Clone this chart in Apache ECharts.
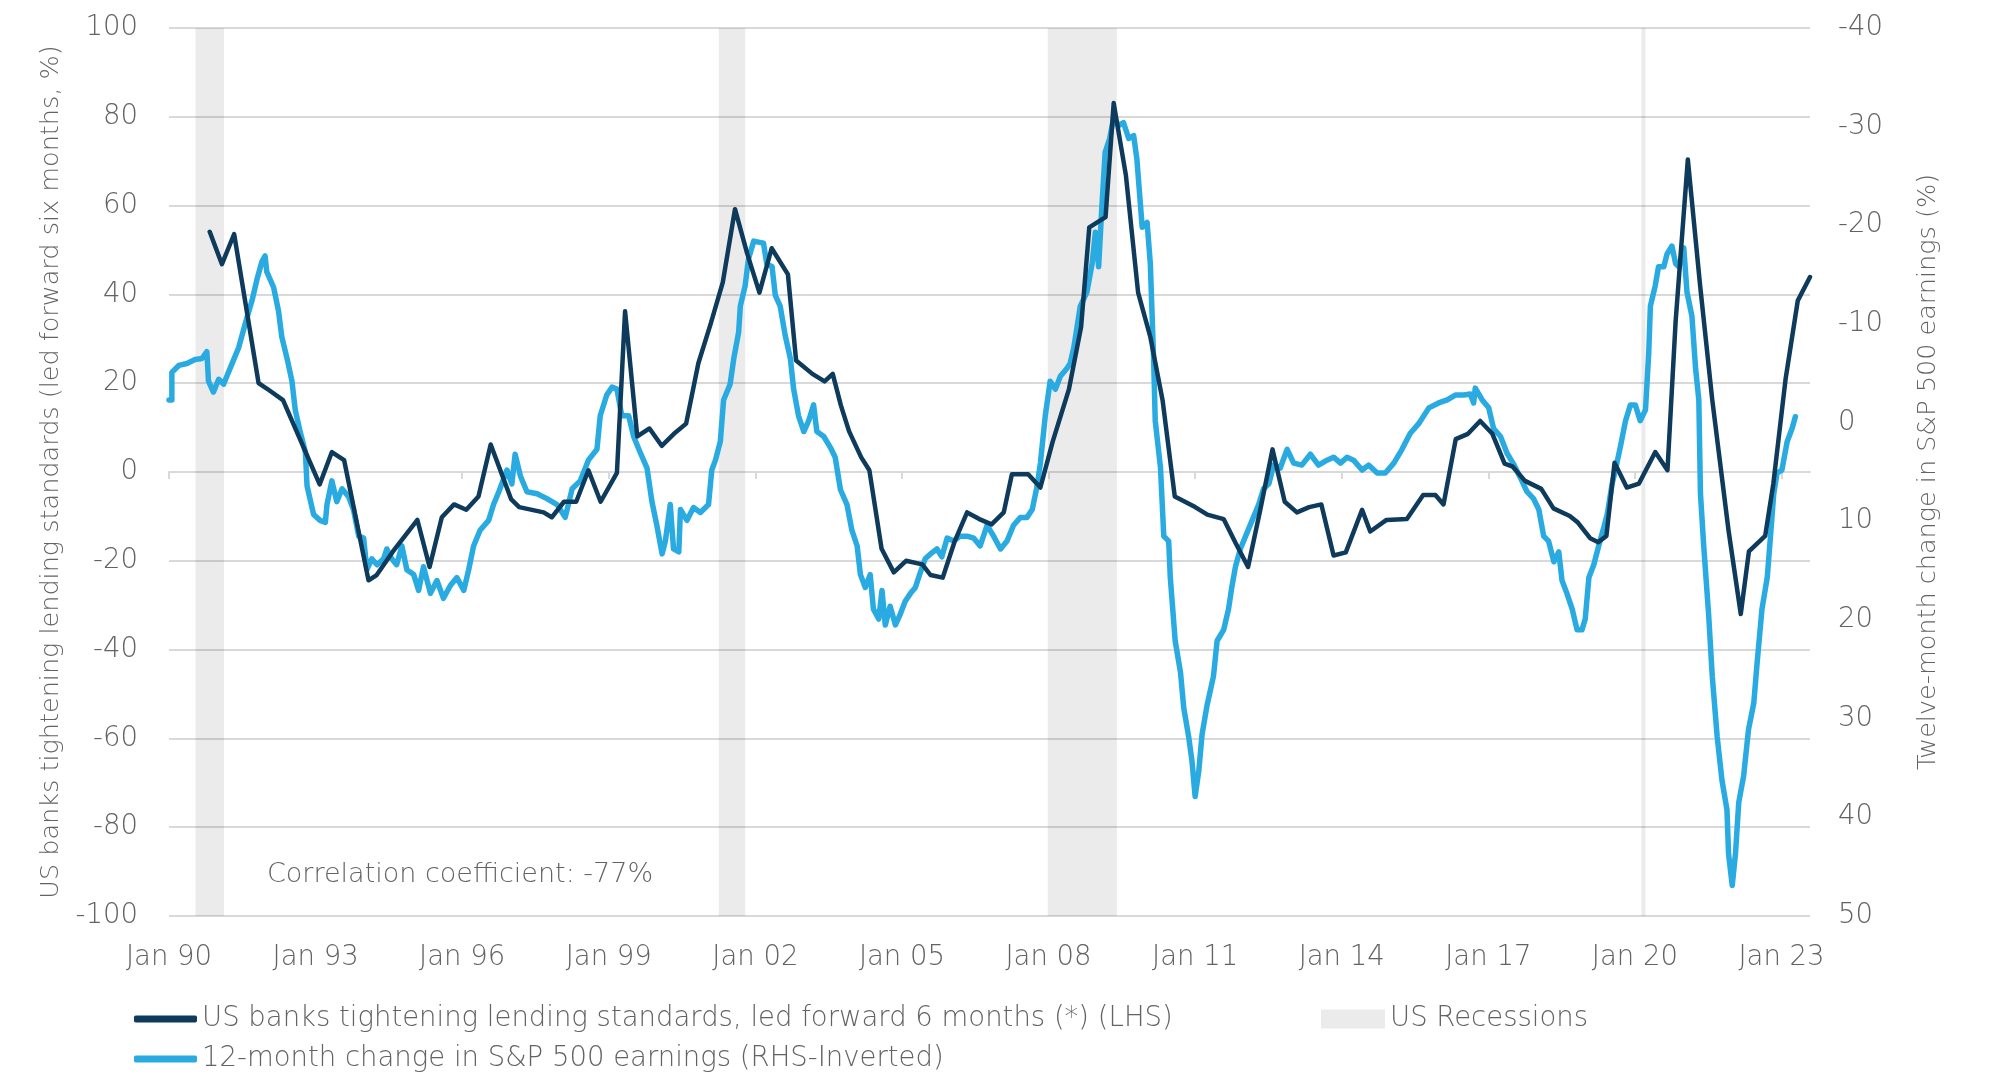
<!DOCTYPE html>
<html><head><meta charset="utf-8">
<script src="https://cdn.jsdelivr.net/npm/echarts@6/dist/echarts.min.js"></script>
<style>html,body{margin:0;padding:0;background:#fff}#c{width:1997px;height:1075px}</style>
</head><body><div id="c"></div>
<script>
// x positions are months after Jan 1990
const xTickMonths = [0, 36, 72, 108, 144, 180, 216, 252, 288, 324, 360, 396];
const xTickLabels = ['Jan 90','Jan 93','Jan 96','Jan 99','Jan 02','Jan 05','Jan 08','Jan 11','Jan 14','Jan 17','Jan 20','Jan 23'];

// US recessions [start month, end month]
const recessions = [[6.5, 13.5], [135, 141.5], [215.8, 232.8], [361.6, 362.6]];

// US banks tightening lending standards, led forward 6 months (LHS, %)
const lendMonth = [10,13,16,22,24,28,37,40,43,49,
  51,55,61,64,67,70,73,76,79,84,
  86,90,92,94,97,100,103,106,110,112,
  115,118,121,124,127,130,133,136,139,142,
  145,148,152,154,158,161,163,165,167,170,
  172,175,178,181,185,187,190,193,196,199,
  202,205,207,211,214,217,221,224,226,230,
  232,235,238,241,244,247,252,255,259,262,
  265,268,271,274,277,280,283,286,289,293,
  295,299,304,308,311,313,316,319,322,325,
  328,330,333,337,340,344,346,349,351,353,
  355,358,361,365,368,370,373,376,379,383,
  386,388,392,394,397,400,403];
const lendValue = [54.1,46.8,53.6,20.0,18.8,16.2,-2.8,4.5,2.7,-24.4,
  -23.2,-17.9,-10.8,-21.4,-10.2,-7.3,-8.5,-5.5,6.2,-6.1,
  -7.9,-8.7,-9.1,-10.2,-6.7,-6.7,0.4,-6.7,-0.2,36.2,
  8.0,9.8,5.9,8.6,10.9,24.5,33.3,42.7,59.2,49.2,
  40.4,50.4,44.5,25.1,22.1,20.4,22.1,15.0,9.2,3.3,
  0.4,-17.3,-22.6,-20.0,-20.8,-23.2,-23.8,-15.5,-9.1,-10.6,
  -11.8,-9.1,-0.5,-0.5,-3.5,6.8,18.6,32.7,55.1,57.4,
  83.1,66.8,40.4,30.4,16.2,-5.5,-7.9,-9.6,-10.6,-16.1,
  -21.4,-8.5,5.1,-6.7,-9.1,-7.9,-7.3,-18.8,-18.1,-8.5,
  -13.4,-10.8,-10.6,-5.2,-5.2,-7.3,7.4,8.6,11.5,8.6,
  1.9,1.2,-2.0,-3.8,-8.2,-9.9,-11.4,-14.9,-15.8,-14.4,
  2.1,-3.5,-2.6,4.5,0.4,33.9,70.4,42.1,16.2,-13.2,
  -32.0,-17.9,-14.4,-2.6,20.9,38.6,43.9];

// 12-month change in S&P 500 earnings (RHS, %, axis inverted)
const earnMonth = [0,0.7,0.7,2.4,4.4,6.4,8.1,9.3,9.7,10.9,
  12.2,13.4,15.0,17.1,18.7,20.4,21.6,22.8,23.6,24.0,
  25.7,26.9,27.7,29.0,30.2,31.0,32.2,33.5,33.9,35.5,
  37.1,38.4,38.8,40.0,41.2,42.5,44.1,45.3,46.6,47.8,
  48.6,49.8,51.1,52.7,53.5,54.7,55.9,57.2,58.4,60.1,
  61.3,62.5,64.2,65.8,67.4,69.1,70.7,72.4,73.6,74.8,
  76.4,78.5,79.7,81.0,83.0,84.2,85.0,86.3,87.9,90.4,
  92.8,95.3,97.3,99.0,101.0,103.0,105.1,105.9,107.5,108.8,
  110.0,111.2,112.9,114.1,115.7,117.4,118.6,119.8,121.1,121.9,
  123.1,123.9,125.2,125.6,127.2,128.8,130.5,132.5,133.3,134.2,
  135.4,136.2,137.8,138.7,139.9,140.3,141.5,142.3,143.6,144.8,
  146.0,146.8,148.1,148.9,150.1,151.3,152.6,153.4,154.6,155.9,
  157.1,158.3,159.1,160.8,162.4,163.6,164.9,166.5,167.7,169.0,
  169.8,171.0,172.2,173.0,174.3,175.1,175.9,177.1,178.4,179.6,
  180.8,182.1,183.3,184.5,185.7,187.0,188.6,189.8,191.1,192.7,
  194.3,196.0,197.6,199.2,200.9,202.5,204.2,205.8,207.4,209.1,
  210.7,212.0,213.2,214.0,215.2,216.4,217.7,218.9,220.5,221.3,
  222.2,223.0,223.8,225.4,226.7,227.5,228.3,229.1,229.9,231.0,
  232.0,233.2,234.4,235.7,236.9,237.7,239.0,240.2,241.0,241.8,
  242.2,243.5,244.3,245.5,245.9,247.1,248.4,249.2,250.4,251.2,
  252.0,252.9,253.7,254.9,256.5,257.4,259.0,260.2,261.0,261.9,
  263.1,264.7,266.0,267.6,268.8,270.1,271.3,272.9,274.6,276.2,
  278.2,280.3,282.3,284.4,286.0,287.7,289.3,290.9,293.0,294.6,
  296.7,298.7,300.8,302.8,304.8,306.9,309.4,311.8,313.9,315.9,
  318.0,319.6,320.4,320.8,322.5,324.1,325.3,327.0,328.6,330.2,
  331.9,333.5,335.1,336.4,337.6,338.8,340.1,341.3,342.1,343.3,
  344.6,345.8,347.0,347.8,348.7,349.9,351.1,352.3,353.2,354.4,
  355.2,356.4,357.7,358.9,360.1,361.3,362.6,363.4,363.8,365.0,
  365.8,367.1,367.9,369.1,370.0,370.8,372.0,372.8,374.0,374.9,
  375.7,376.1,376.9,378.1,379.0,380.2,381.4,382.6,383.0,383.9,
  384.7,385.5,386.7,387.9,389.2,390.0,391.2,392.5,393.3,394.1,
  394.9,396.1,397.4,398.6,399.4];
const earnChange = [-2.3,-2.3,-5.1,-5.8,-6.0,-6.4,-6.5,-7.2,-4.2,-3.1,
  -4.4,-3.9,-5.5,-7.6,-10.0,-12.4,-14.5,-16.3,-16.9,-15.3,
  -13.7,-11.3,-8.7,-6.5,-4.2,-1.3,0.9,3.0,6.4,9.3,
  9.9,10.1,8.3,5.9,8.0,6.7,7.5,8.8,11.5,11.7,
  14.9,13.8,14.4,13.8,12.8,13.8,14.4,12.5,14.9,15.4,
  17.0,14.6,17.3,16.0,17.8,16.5,15.7,17.0,14.9,12.5,
  10.9,9.9,8.3,7.0,4.8,6.2,3.2,5.4,7.0,7.2,
  7.7,8.3,9.6,6.7,5.9,3.8,2.7,-0.7,-2.8,-3.6,
  -3.4,-0.7,-0.7,1.4,3.0,4.6,8.0,10.4,13.3,12.0,
  8.3,12.8,13.1,8.8,9.9,8.6,9.1,8.3,4.8,3.8,
  1.9,-2.3,-3.9,-6.5,-9.2,-11.8,-13.9,-16.6,-18.4,-18.3,
  -18.2,-16.1,-15.8,-12.9,-11.8,-8.9,-6.5,-3.4,-0.7,0.9,
  -0.2,-1.8,0.9,1.4,2.5,3.5,6.8,8.3,10.9,12.5,
  15.4,16.7,15.4,18.9,19.9,17.0,20.5,18.6,20.5,19.4,
  18.1,17.3,16.7,15.2,13.8,13.3,12.8,13.6,11.7,12.0,
  11.5,11.5,11.7,12.5,10.4,11.5,12.8,12.0,10.4,9.6,
  9.6,8.8,6.4,4.1,-0.7,-4.2,-3.4,-4.7,-5.5,-6.0,
  -7.6,-9.7,-11.8,-13.2,-16.1,-19.3,-15.8,-21.9,-27.4,-28.8,
  -30.9,-30.1,-30.4,-28.8,-29.1,-26.7,-19.8,-20.3,-16.1,-6.5,
  -0.2,4.6,11.5,12.0,15.7,22.1,25.3,28.9,31.8,34.2,
  37.9,35.3,31.6,28.7,25.7,22.1,21.0,18.9,16.7,14.6,
  12.8,11.2,9.9,8.3,6.7,6.2,4.3,4.6,2.7,4.1,
  4.3,3.2,4.3,3.8,3.5,4.1,3.5,3.8,4.8,4.3,
  5.1,5.1,4.1,2.7,1.1,0.1,-1.5,-2.0,-2.3,-2.8,
  -2.8,-2.9,-2.0,-3.5,-2.3,-1.5,0.6,1.4,3.1,4.2,
  5.6,7.0,7.7,8.8,11.5,12.0,14.1,13.1,16.0,17.3,
  18.9,21.0,21.0,19.9,15.7,14.4,12.5,10.7,9.3,6.2,
  4.8,2.5,-0.2,-1.8,-1.8,-0.2,-1.3,-7.1,-11.8,-13.9,
  -15.8,-15.8,-17.1,-17.9,-16.1,-15.8,-17.7,-13.2,-10.8,-5.5,
  -2.3,7.2,12.5,19.4,25.7,31.8,36.3,39.2,43.7,46.9,
  43.7,38.5,35.8,31.1,28.4,24.4,18.9,15.7,11.5,7.2,
  5.1,4.8,1.9,0.6,-0.6];

const NAME_LEND = 'US banks tightening lending standards, led forward 6 months (*) (LHS)';
const NAME_EARN = '12-month change in S&P 500 earnings (RHS-Inverted)';
const NAME_REC = 'US Recessions';

const FONT = 'DejaVu Sans';
const FW = 200;
const FS = 27.5;
const TXT = '#636363';
const GRID = '#d9d9d9';

if (lendMonth.length !== lendValue.length || earnMonth.length !== earnChange.length) {
  console.error('length mismatch', lendMonth.length, lendValue.length, earnMonth.length, earnChange.length);
}

const lendData = lendMonth.map((m, i) => [m, lendValue[i]]);
const earnData = earnMonth.map((m, i) => [m, earnChange[i]]);

const chart = echarts.init(document.getElementById('c'));
const textBase = { color: TXT, fontSize: FS, fontFamily: FONT, fontWeight: FW };
const nameBase = { color: TXT, fontSize: 25.5, fontFamily: FONT, fontWeight: FW };

chart.setOption({
  animation: false,
  backgroundColor: '#ffffff',
  grid: { left: 169, right: 187, top: 28, bottom: 159 },
  xAxis: {
    type: 'value', min: 0, max: 403, interval: 36,
    axisLine: { show: true, lineStyle: { color: GRID, width: 2 } },
    axisTick: { show: true, length: 7, customValues: xTickMonths, lineStyle: { color: GRID, width: 2 } },
    axisLabel: Object.assign({ customValues: xTickMonths, margin: 28,
      formatter: v => xTickLabels[xTickMonths.indexOf(v)] || '' }, textBase),
    splitLine: { show: false }
  },
  yAxis: [
    {
      type: 'value', min: -100, max: 100, interval: 20, position: 'left',
      name: 'US banks tightening lending standards (led forward six months, %)',
      nameLocation: 'middle', nameRotate: 90, nameGap: 102,
      nameTextStyle: Object.assign({}, nameBase),
      axisLine: { show: false }, axisTick: { show: false },
      axisLabel: Object.assign({ margin: 31 }, textBase),
      splitLine: { show: true, lineStyle: { color: GRID, width: 2 } }
    },
    {
      type: 'value', min: -40, max: 50, interval: 10, inverse: true, position: 'right',
      name: 'Twelve-month change in S&P 500 earnings (%)',
      nameLocation: 'middle', nameRotate: 90, nameGap: 105,
      nameTextStyle: Object.assign({}, nameBase),
      axisLine: { show: false }, axisTick: { show: false },
      axisLabel: Object.assign({ margin: 28 }, textBase),
      splitLine: { show: false }
    }
  ],
  legend: [
    { left: 134, top: 1005, padding: 0, selectedMode: false, itemWidth: 63, itemHeight: 7,
      data: [{ name: NAME_LEND, icon: 'roundRect' }], textStyle: Object.assign({}, textBase) },
    { left: 1321, top: 1005, padding: 0, selectedMode: false, itemWidth: 64, itemHeight: 19,
      data: [{ name: NAME_REC, icon: 'rect' }], textStyle: Object.assign({}, textBase) },
    { left: 134, top: 1045, padding: 0, selectedMode: false, itemWidth: 63, itemHeight: 7,
      data: [{ name: NAME_EARN, icon: 'roundRect' }], textStyle: Object.assign({}, textBase) }
  ],
  graphic: [{
    type: 'text', left: 267, top: 861,
    style: { text: 'Correlation coefficient: -77%', fill: TXT, fontSize: 27, fontFamily: FONT, fontWeight: FW }
  }],
  series: [
    {
      name: NAME_REC, type: 'line', data: [], z: 1, silent: true,
      itemStyle: { color: '#ebebeb' }, lineStyle: { color: '#ebebeb' },
      markArea: {
        silent: true,
        itemStyle: { color: 'rgba(0,0,0,0.08)' },
        data: recessions.map(r => [{ xAxis: r[0] }, { xAxis: r[1] }])
      }
    },
    {
      name: NAME_EARN, type: 'line', yAxisIndex: 1, data: earnData, z: 3,
      showSymbol: false, symbol: 'none', silent: true,
      itemStyle: { color: '#29abe2' },
      lineStyle: { color: '#29abe2', width: 5.5, join: 'round', cap: 'round' }
    },
    {
      name: NAME_LEND, type: 'line', yAxisIndex: 0, data: lendData, z: 4,
      showSymbol: false, symbol: 'none', silent: true,
      itemStyle: { color: '#0e3a5c' },
      lineStyle: { color: '#0e3a5c', width: 4.5, join: 'round', cap: 'round' }
    }
  ]
});
</script>
</body></html>
